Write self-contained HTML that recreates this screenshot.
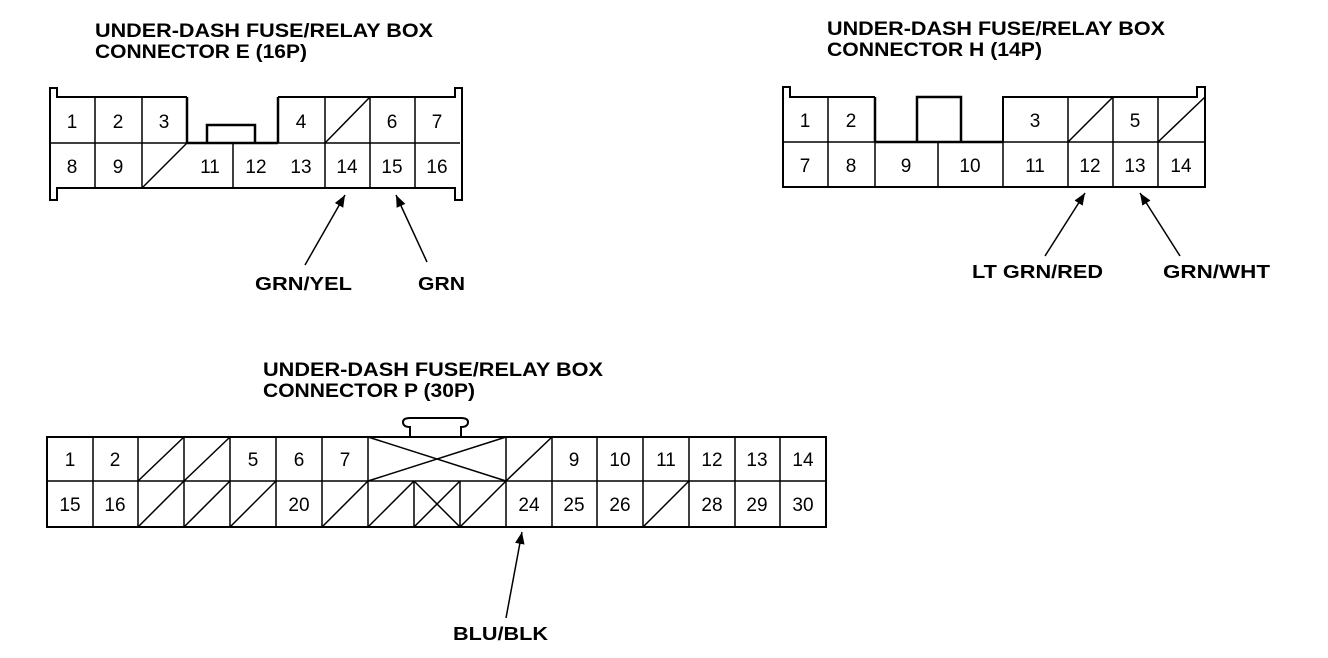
<!DOCTYPE html>
<html><head><style>
html,body{margin:0;padding:0;background:#fff;}
svg{display:block;}
text{font-family:"Liberation Sans",sans-serif;}
.t{font-weight:bold;font-size:19px;}
.n{font-size:19px;text-anchor:middle;}
.l{font-weight:bold;font-size:18px;}
</style></head><body>
<svg width="1328" height="658" viewBox="0 0 1328 658" xmlns="http://www.w3.org/2000/svg">
<defs><marker id="ah" viewBox="0 0 10 10" refX="10" refY="5" markerWidth="8" markerHeight="8" orient="auto"><path d="M0,1 L10,5 L0,9 Z" fill="#000"/></marker></defs>
<g fill="none" stroke="#000" stroke-width="1.5">
<!-- Connector E -->
<path d="M187,97 H57 V88 H50 V200 H57 V188 H455 V200 H462 V88 H455 V97 H278" stroke-width="2"/>
<path d="M187,97 V143 M278,97 V143 M187,143 H278 M207,143 V125 H255 V143" stroke-width="2.5"/>
<path d="M50,143 H187 M278,143 H460"/>
<path d="M95,97 V188 M142,97 V188 M233,143 V188 M325,97 V188 M370,97 V188 M415,97 V188"/>
<path d="M142,188 L187,143 M325,143 L370,97"/>
<!-- Connector H -->
<path d="M875,97 H790 V87 H783 V187 H1205 V87 H1197 V97 H1003 V142" stroke-width="2"/>
<path d="M875,97 V142 M917,142 V97 H961 V142 M875,142 H1003" stroke-width="2.5"/>
<path d="M783,142 H875 M1003,142 H1205"/>
<path d="M828,97 V187 M875,142 V187 M938,142 V187 M1003,142 V187 M1068,97 V187 M1113,97 V187 M1158,97 V187"/>
<path d="M1068,142 L1113,97 M1158,142 L1205,97"/>
<!-- Connector P -->
<rect x="47" y="437" width="779" height="90" stroke-width="2"/>
<path d="M47,481 H826" />
<path d="M410,437 V427 Q403,427 403,422 Q403,418 410,418 H461 Q468,418 468,422 Q468,427 461,427 V437" stroke-width="2"/>
<path d="M93,437 V527 M138,437 V527 M184,437 V527 M230,437 V527 M276,437 V527 M322,437 V527 M368,437 V527 M414,481 V527 M460,481 V527 M506,437 V527 M552,437 V527 M597,437 V527 M643,437 V527 M689,437 V527 M735,437 V527 M780,437 V527"/>
<path d="M138,481 L184,437 M184,481 L230,437 M506,481 L552,437 M138,527 L184,481 M184,527 L230,481 M230,527 L276,481 M322,527 L368,481 M368,527 L414,481 M460,527 L506,481 M643,527 L689,481 M368,481 L506,437 M368,437 L506,481 M414,527 L460,481 M414,481 L460,527"/>
<!-- arrows -->
<g stroke-width="1.5" marker-end="url(#ah)">
<line x1="305" y1="265" x2="345" y2="195"/>
<line x1="427" y1="262" x2="396" y2="195"/>
<line x1="1045" y1="256" x2="1085" y2="193"/>
<line x1="1180" y1="256" x2="1140" y2="193"/>
<line x1="506" y1="618" x2="522" y2="532"/>
</g>
</g>
<g>
<text class="t" x="95" y="37" textLength="338" lengthAdjust="spacingAndGlyphs">UNDER-DASH FUSE/RELAY BOX</text>
<text class="t" x="95" y="58" textLength="212" lengthAdjust="spacingAndGlyphs">CONNECTOR E (16P)</text>
<text class="t" x="827" y="35" textLength="338" lengthAdjust="spacingAndGlyphs">UNDER-DASH FUSE/RELAY BOX</text>
<text class="t" x="827" y="56" textLength="215" lengthAdjust="spacingAndGlyphs">CONNECTOR H (14P)</text>
<text class="t" x="263" y="376" textLength="340" lengthAdjust="spacingAndGlyphs">UNDER-DASH FUSE/RELAY BOX</text>
<text class="t" x="263" y="397" textLength="212" lengthAdjust="spacingAndGlyphs">CONNECTOR P (30P)</text>
<text class="l" x="255" y="290" textLength="97" lengthAdjust="spacingAndGlyphs">GRN/YEL</text>
<text class="l" x="418" y="290" textLength="47" lengthAdjust="spacingAndGlyphs">GRN</text>
<text class="l" x="972" y="278" textLength="131" lengthAdjust="spacingAndGlyphs">LT GRN/RED</text>
<text class="l" x="1163" y="278" textLength="107" lengthAdjust="spacingAndGlyphs">GRN/WHT</text>
<text class="l" x="453" y="640" textLength="95" lengthAdjust="spacingAndGlyphs">BLU/BLK</text>
</g>
<g class="n">
<text class="n" x="72" y="128">1</text><text class="n" x="118" y="128">2</text><text class="n" x="164" y="128">3</text>
<text class="n" x="301" y="128">4</text><text class="n" x="392" y="128">6</text><text class="n" x="437" y="128">7</text>
<text class="n" x="72" y="173">8</text><text class="n" x="118" y="173">9</text><text class="n" x="210" y="173">11</text><text class="n" x="256" y="173">12</text><text class="n" x="301" y="173">13</text><text class="n" x="347" y="173">14</text><text class="n" x="392" y="173">15</text><text class="n" x="437" y="173">16</text>
<text class="n" x="805" y="127">1</text><text class="n" x="851" y="127">2</text><text class="n" x="1035" y="127">3</text><text class="n" x="1135" y="127">5</text>
<text class="n" x="805" y="172">7</text><text class="n" x="851" y="172">8</text><text class="n" x="906" y="172">9</text><text class="n" x="970" y="172">10</text><text class="n" x="1035" y="172">11</text><text class="n" x="1090" y="172">12</text><text class="n" x="1135" y="172">13</text><text class="n" x="1181" y="172">14</text>
<text class="n" x="70" y="466">1</text><text class="n" x="115" y="466">2</text><text class="n" x="253" y="466">5</text><text class="n" x="299" y="466">6</text><text class="n" x="345" y="466">7</text>
<text class="n" x="574" y="466">9</text><text class="n" x="620" y="466">10</text><text class="n" x="666" y="466">11</text><text class="n" x="712" y="466">12</text><text class="n" x="757" y="466">13</text><text class="n" x="803" y="466">14</text>
<text class="n" x="70" y="511">15</text><text class="n" x="115" y="511">16</text><text class="n" x="299" y="511">20</text>
<text class="n" x="529" y="511">24</text><text class="n" x="574" y="511">25</text><text class="n" x="620" y="511">26</text><text class="n" x="712" y="511">28</text><text class="n" x="757" y="511">29</text><text class="n" x="803" y="511">30</text>
</g>
</svg>
</body></html>
